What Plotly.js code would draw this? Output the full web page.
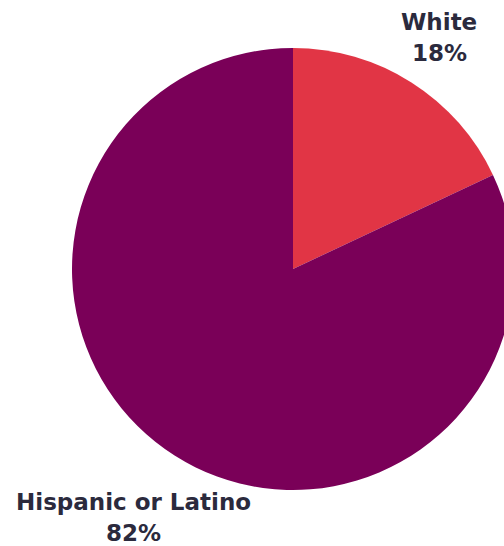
<!DOCTYPE html>
<html>
<head>
<meta charset="utf-8">
<script src="https://cdn.plot.ly/plotly-3.0.1.min.js"></script>
<style>
html,body{margin:0;padding:0;width:504px;height:546px;overflow:hidden;background:#fff;}
#chart{width:600px;height:546px;}
</style>
</head>
<body>
<div id="chart"></div>
<script>
const categories = ['White', 'Hispanic or Latino'];
const values = [18, 82];
const colors = ['#E13545', '#7A0058'];

const W = 600, H = 546;
const labelPos = [
  {x: 439, y1: 22, y2: 53},
  {x: 133, y1: 502, y2: 533}
];
const font = {family: 'DejaVu Sans', size: 23, color: '#2B2A3D', weight: 700};
const annotations = [];
categories.forEach((c, i) => {
  const p = labelPos[i];
  annotations.push({text: '<b>' + c + '</b>', x: p.x / W, y: 1 - p.y1 / H, xref: 'paper', yref: 'paper',
    showarrow: false, xanchor: 'center', yanchor: 'middle', font: font});
  annotations.push({text: '<b>' + values[i] + '%</b>', x: p.x / W, y: 1 - p.y2 / H, xref: 'paper', yref: 'paper',
    showarrow: false, xanchor: 'center', yanchor: 'middle', font: font});
});

const trace = {
  type: 'pie',
  labels: categories,
  values: values,
  marker: {colors: colors, line: {width: 0}},
  sort: false,
  direction: 'clockwise',
  rotation: 0,
  textinfo: 'none',
  hoverinfo: 'label+percent',
  domain: {x: [72 / W, 514 / W], y: [(H - 490) / H, (H - 48) / H]}
};

Plotly.newPlot('chart', [trace], {
  width: W, height: H,
  margin: {l: 0, r: 0, t: 0, b: 0},
  showlegend: false,
  paper_bgcolor: '#fff',
  annotations: annotations
}, {displayModeBar: false, staticPlot: true});
</script>
</body>
</html>
